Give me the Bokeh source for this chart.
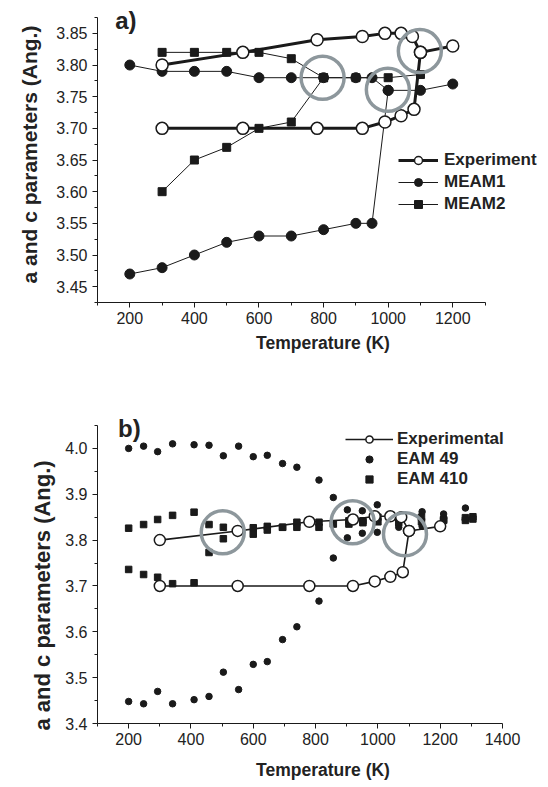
from bokeh.plotting import figure
from bokeh.models import Range1d, FixedTicker, Label, Legend, LegendItem, NumeralTickFormatter, Title
from bokeh.layouts import column
from bokeh.embed import file_html
from bokeh.resources import INLINE

# ---------------- data : panel a ----------------
exp_up_T = [300, 550, 780, 920, 990, 1040, 1075, 1100, 1200]
exp_up_v = [3.80, 3.82, 3.84, 3.845, 3.85, 3.85, 3.845, 3.82, 3.83]
exp_lo_T = [300, 550, 780, 920, 990, 1040, 1080, 1100]
exp_lo_v = [3.70, 3.70, 3.70, 3.70, 3.71, 3.72, 3.73, 3.82]

m1_up_T = [200, 300, 400, 500, 600, 700, 800, 900, 950, 1000, 1100, 1200]
m1_up_v = [3.80, 3.79, 3.79, 3.79, 3.78, 3.78, 3.78, 3.78, 3.78, 3.76, 3.76, 3.77]
m1_lo_T = [200, 300, 400, 500, 600, 700, 800, 900, 950, 1000]
m1_lo_v = [3.47, 3.48, 3.50, 3.52, 3.53, 3.53, 3.54, 3.55, 3.55, 3.76]

m2_up_T = [300, 400, 500, 600, 700, 800, 900, 1000, 1100]
m2_up_v = [3.82, 3.82, 3.82, 3.82, 3.81, 3.78, 3.78, 3.78, 3.785]
m2_lo_T = [300, 400, 500, 600, 700, 800]
m2_lo_v = [3.60, 3.65, 3.67, 3.70, 3.71, 3.78]

ring_a_T = [797, 999, 1098]
ring_a_v = [3.78, 3.761, 3.822]

a_xticks = [200, 400, 600, 800, 1000, 1200]
a_xminor = [100, 300, 500, 700, 900, 1100, 1300]
a_yticks = [3.45, 3.50, 3.55, 3.60, 3.65, 3.70, 3.75, 3.80, 3.85]
a_yminor = [3.425, 3.475, 3.525, 3.575, 3.625, 3.675, 3.725, 3.775, 3.825, 3.875]

# ---------------- data : panel b ----------------
bexp_up_T = [300, 550, 780, 920, 990, 1040, 1075, 1100, 1200]
bexp_up_v = [3.80, 3.82, 3.84, 3.845, 3.852, 3.852, 3.85, 3.82, 3.83]
bexp_lo_T = [300, 550, 780, 920, 990, 1040, 1080, 1100]
bexp_lo_v = [3.70, 3.70, 3.70, 3.70, 3.71, 3.72, 3.73, 3.82]

e49_up_T = [200, 248, 293, 341, 410, 458, 504, 553, 600, 645, 694, 740, 811, 857, 902, 950, 998, 1142, 1211, 1281]
e49_up_v = [4.00, 4.005, 3.993, 4.01, 4.008, 4.007, 3.984, 4.005, 3.982, 3.985, 3.967, 3.959, 3.931, 3.893,
            3.866, 3.864, 3.877, 3.862, 3.857, 3.870]
e49_lo_T = [200, 248, 293, 341, 410, 458, 504, 553, 600, 645, 694, 740, 811, 857, 902, 950, 998, 1067, 1142, 1211, 1281]
e49_lo_v = [3.448, 3.443, 3.47, 3.443, 3.452, 3.459, 3.512, 3.474, 3.529, 3.535, 3.583, 3.611, 3.667, 3.761,
            3.805, 3.815, 3.817, 3.828, 3.83, 3.848, 3.845]

e410_up_T = [200, 248, 293, 341, 410, 458, 504, 600, 645, 694, 740, 811, 907, 952, 1000, 1067, 1140, 1211, 1281, 1305]
e410_up_v = [3.826, 3.834, 3.845, 3.854, 3.861, 3.834, 3.828, 3.827, 3.83, 3.828, 3.839, 3.839, 3.842, 3.842,
             3.85, 3.846, 3.85, 3.845, 3.849, 3.851]
e410_lo_T = [200, 248, 293, 341, 410, 458, 504, 553, 600, 645, 694, 740, 811, 857, 907, 952, 1000, 1067, 1140,
             1211, 1281, 1305]
e410_lo_v = [3.736, 3.725, 3.719, 3.705, 3.707, 3.773, 3.803, 3.82, 3.813, 3.822, 3.828, 3.828, 3.828, 3.835,
             3.835, 3.838, 3.84, 3.838, 3.84, 3.843, 3.843, 3.846]

ring_b_T = [502, 919, 1087]
ring_b_v = [3.817, 3.839, 3.813]

b_xticks = [200, 400, 600, 800, 1000, 1200, 1400]
b_xminor = [100, 300, 500, 700, 900, 1100, 1300]
b_yticks = [3.4, 3.5, 3.6, 3.7, 3.8, 3.9, 4.0]
b_yminor = [3.45, 3.55, 3.65, 3.75, 3.85, 3.95, 4.05]

YTITLE = "a and c parameters (Ang.)"
XTITLE = "Temperature (K)"

FONT = "Liberation Sans"
INK = "#1a1a1a"
RING = "#8d979c"


def style(p, xt, xm, yt, ym, xb, yb, yfmt, ytick_standoff, xlab_standoff,
          ytitle_size, ytitle_standoff, ytitle_offset):
    p.xaxis.ticker = FixedTicker(ticks=xt, minor_ticks=xm)
    p.yaxis.ticker = FixedTicker(ticks=yt, minor_ticks=ym)
    p.xaxis.bounds = xb
    p.yaxis.bounds = yb
    p.yaxis.formatter = NumeralTickFormatter(format=yfmt)
    for ax in (p.xaxis[0], p.yaxis[0]):
        ax.axis_line_color = INK
        ax.major_tick_line_color = INK
        ax.minor_tick_line_color = INK
        ax.major_tick_out = 5
        ax.major_tick_in = 0
        ax.minor_tick_out = 3
        ax.minor_tick_in = 0
        ax.major_label_text_font = FONT
        ax.major_label_text_font_size = "16px"
        ax.major_label_text_color = "#222222"
        ax.axis_label_text_font = FONT
        ax.axis_label_text_font_style = "bold"
        ax.axis_label_text_color = "#222222"
    p.xaxis.axis_label = XTITLE
    p.xaxis.axis_label_text_font_size = "17.5px"
    p.xaxis.major_label_standoff = 4
    p.xaxis.axis_label_standoff = xlab_standoff
    p.yaxis.major_label_standoff = ytick_standoff
    p.add_layout(Title(text=YTITLE, align="left", text_font=FONT, text_font_size=ytitle_size,
                       text_font_style="bold", text_color="#222222", standoff=ytitle_standoff,
                       offset=ytitle_offset), "left")
    p.grid.visible = False
    p.outline_line_color = None


# ---------------- panel a ----------------
pa = figure(width=548, height=365, output_backend="svg", toolbar_location=None,
            x_range=Range1d(100, 1496.4), y_range=Range1d(3.425, 3.9019),
            min_border_left=93, min_border_right=0, min_border_top=0, min_border_bottom=63)
style(pa, a_xticks, a_xminor, a_yticks, a_yminor, (100, 1300), (3.425, 3.875), "0.00",
      5, 6, "21px", 25, 19)

m2l1 = pa.line(m2_up_T, m2_up_v, line_color=INK, line_width=1)
pa.line(m2_lo_T, m2_lo_v, line_color=INK, line_width=1)
m1l1 = pa.line(m1_up_T, m1_up_v, line_color=INK, line_width=1)
pa.line(m1_lo_T, m1_lo_v, line_color=INK, line_width=1)
exl1 = pa.line(exp_up_T, exp_up_v, line_color=INK, line_width=3)
pa.line(exp_lo_T, exp_lo_v, line_color=INK, line_width=3)

m2s1 = pa.scatter(m2_up_T, m2_up_v, marker="square", size=8, fill_color=INK, line_color=INK)
pa.scatter(m2_lo_T, m2_lo_v, marker="square", size=8, fill_color=INK, line_color=INK)
m1s1 = pa.scatter(m1_up_T, m1_up_v, marker="circle", size=10, fill_color=INK, line_color=INK)
pa.scatter(m1_lo_T, m1_lo_v, marker="circle", size=10, fill_color=INK, line_color=INK)
exs1 = pa.scatter(exp_up_T, exp_up_v, marker="circle", size=12, fill_color="white", line_color=INK, line_width=1.5)
pa.scatter(exp_lo_T, exp_lo_v, marker="circle", size=12, fill_color="white", line_color=INK, line_width=1.5)

pa.scatter(ring_a_T, ring_a_v, marker="circle", size=43, fill_color=None, line_color=RING, line_width=3.5)

leg_a = Legend(items=[LegendItem(label="Experiment", renderers=[exl1, exs1]),
                      LegendItem(label="MEAM1", renderers=[m1l1, m1s1]),
                      LegendItem(label="MEAM2", renderers=[m2l1, m2s1])],
               location=(301, 88), glyph_width=40, glyph_height=20, label_height=20, spacing=2,
               padding=0, margin=0, label_standoff=6, border_line_alpha=0, background_fill_alpha=0,
               label_text_font=FONT, label_text_font_size="17px", label_text_font_style="bold",
               label_text_color="#222222")
pa.add_layout(leg_a)

pa.add_layout(Label(x=155, y=3.870, text="a)", text_font=FONT, text_font_size="24px",
                    text_font_style="bold", text_color="#222222", text_baseline="alphabetic"))

# ---------------- panel b ----------------
pb = figure(width=548, height=422, output_backend="svg", toolbar_location=None,
            x_range=Range1d(100, 1547.7), y_range=Range1d(3.4, 4.1809),
            min_border_left=97, min_border_right=0, min_border_top=0, min_border_bottom=64)
style(pb, b_xticks, b_xminor, b_yticks, b_yminor, (100, 1400), (3.4, 4.05), "0.0",
      5, 12, "22px", 16, -7)

exl2 = pb.line(bexp_up_T, bexp_up_v, line_color=INK, line_width=1.6)
pb.line(bexp_lo_T, bexp_lo_v, line_color=INK, line_width=1.6)
e49s = pb.scatter(e49_up_T, e49_up_v, marker="circle", size=6.5, fill_color=INK, line_color=INK)
pb.scatter(e49_lo_T, e49_lo_v, marker="circle", size=6.5, fill_color=INK, line_color=INK)
e410s = pb.scatter(e410_up_T, e410_up_v, marker="square", size=6.5, fill_color=INK, line_color=INK)
pb.scatter(e410_lo_T, e410_lo_v, marker="square", size=6.5, fill_color=INK, line_color=INK)
exs2 = pb.scatter(bexp_up_T, bexp_up_v, marker="circle", size=11, fill_color="white", line_color=INK, line_width=1.5)
pb.scatter(bexp_lo_T, bexp_lo_v, marker="circle", size=11, fill_color="white", line_color=INK, line_width=1.5)

pb.scatter(ring_b_T, ring_b_v, marker="circle", size=43, fill_color=None, line_color=RING, line_width=3.5)

leg_b = Legend(items=[LegendItem(label="Experimental", renderers=[exl2, exs2]),
                      LegendItem(label="EAM 49", renderers=[e49s]),
                      LegendItem(label="EAM 410", renderers=[e410s])],
               location=(248, 234), glyph_width=48, glyph_height=18, label_height=18, spacing=-2,
               padding=0, margin=0, label_standoff=4, border_line_alpha=0, background_fill_alpha=0,
               label_text_font=FONT, label_text_font_size="17px", label_text_font_style="bold",
               label_text_color="#222222")
pb.add_layout(leg_b)

pb.add_layout(Label(x=166, y=4.043, text="b)", text_font=FONT, text_font_size="24px",
                    text_font_style="bold", text_color="#222222", text_baseline="alphabetic"))

layout = column(pa, pb, spacing=0)
open("out.html", "w").write(file_html(layout, INLINE))
